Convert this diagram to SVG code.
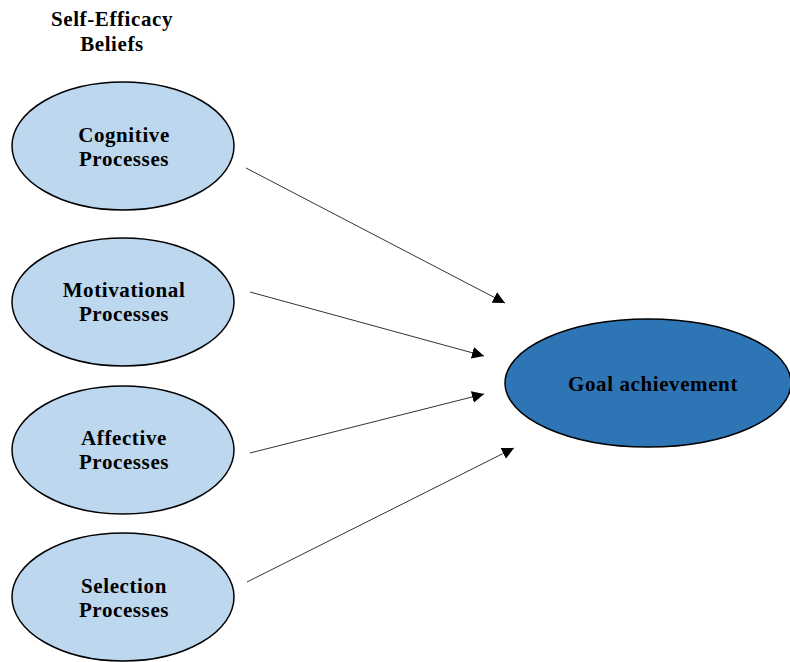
<svg xmlns="http://www.w3.org/2000/svg" width="790" height="662" viewBox="0 0 790 662">
  <style>
    .lbl { font-family: "Liberation Serif", "Times New Roman", serif; font-weight: bold; font-size: 21px; letter-spacing: 0.6px; fill: #000; text-anchor: middle; }
    .src { fill: #BDD7EE; stroke: #000; stroke-width: 1.5; }
    .dst { fill: #2E75B6; stroke: #000; stroke-width: 1.5; }
    .edge { stroke: #333; stroke-width: 1; fill: none; marker-end: url(#arrow); }
  </style>
  <defs>
    <marker id="arrow" viewBox="0 0 10 10" refX="10" refY="5" markerWidth="12" markerHeight="12" markerUnits="userSpaceOnUse" orient="auto">
      <path d="M0,0 L10,5 L0,10 z" fill="#000"/>
    </marker>
  </defs>
  <rect width="790" height="662" fill="#fff"/>

  <g id="title">
    <text class="lbl" x="112" y="26">Self-Efficacy</text>
    <text class="lbl" x="112" y="51">Beliefs</text>
  </g>

  <g id="cognitive">
    <ellipse class="src" cx="123" cy="146" rx="111" ry="64"/>
    <text class="lbl" x="124" y="142">Cognitive</text>
    <text class="lbl" x="124" y="166">Processes</text>
  </g>

  <g id="motivational">
    <ellipse class="src" cx="123" cy="302" rx="111" ry="64"/>
    <text class="lbl" x="124" y="297">Motivational</text>
    <text class="lbl" x="124" y="321">Processes</text>
  </g>

  <g id="affective">
    <ellipse class="src" cx="123" cy="450" rx="111" ry="64"/>
    <text class="lbl" x="124" y="445">Affective</text>
    <text class="lbl" x="124" y="469">Processes</text>
  </g>

  <g id="selection">
    <ellipse class="src" cx="123" cy="597" rx="111" ry="64"/>
    <text class="lbl" x="124" y="593">Selection</text>
    <text class="lbl" x="124" y="617">Processes</text>
  </g>

  <g id="goal">
    <ellipse class="dst" cx="648" cy="383" rx="143" ry="64"/>
    <text class="lbl" x="653" y="391">Goal achievement</text>
  </g>

  <g id="connectors">
    <line class="edge" x1="246" y1="168" x2="505" y2="303"/>
    <line class="edge" x1="250" y1="292" x2="484" y2="356"/>
    <line class="edge" x1="250" y1="453" x2="484" y2="394"/>
    <line class="edge" x1="247" y1="582" x2="514" y2="448"/>
  </g>
</svg>
